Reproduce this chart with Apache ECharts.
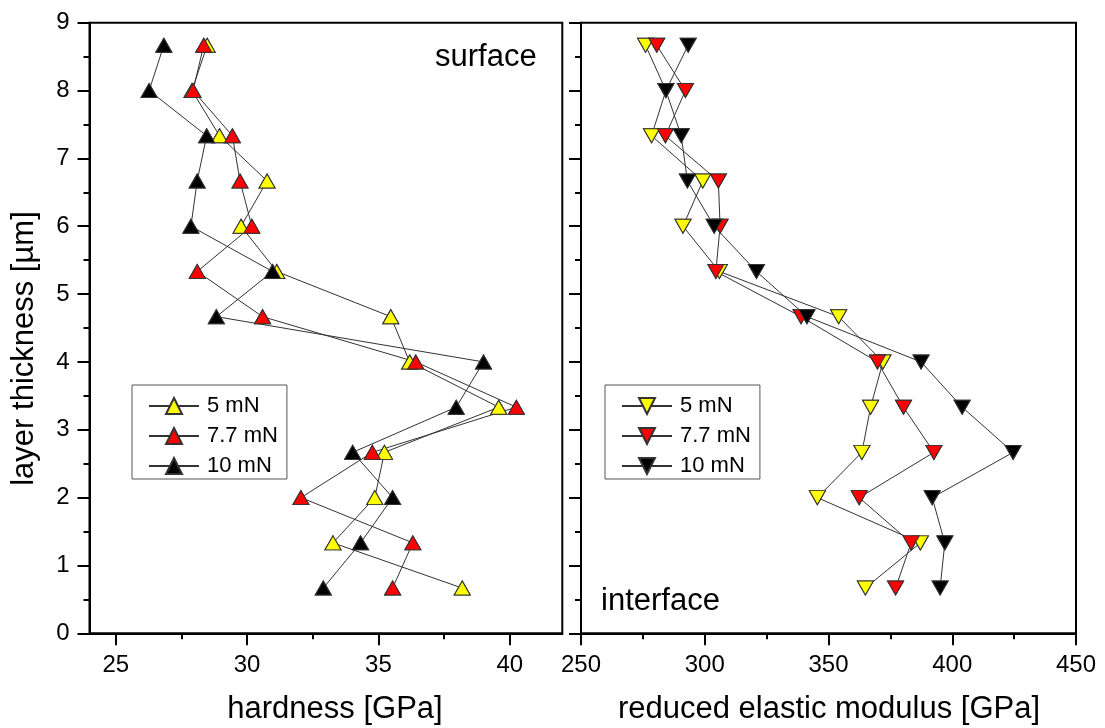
<!DOCTYPE html>
<html>
<head>
<meta charset="utf-8">
<script src="https://cdn.jsdelivr.net/npm/echarts@6/dist/echarts.min.js"></script>
<style>html,body{margin:0;padding:0;background:#fff}#c{width:1105px;height:728px}</style>
</head>
<body>
<div id="c"></div>
<script>
// ---- data ----
const depth = [8.667, 8.0, 7.333, 6.667, 6.0, 5.333, 4.667, 4.0, 3.333, 2.667, 2.0, 1.333, 0.667];
const hard5  = [28.48, 27.90, 28.95, 30.76, 29.77, 31.13, 35.47, 36.19, 39.58, 35.23, 34.86, 33.27, 38.19];
const hard77 = [28.35, 27.94, 29.44, 29.73, 30.18, 28.10, 30.59, 36.42, 40.25, 34.77, 32.05, 36.31, 35.54];
const hard10 = [26.83, 26.27, 28.46, 28.10, 27.86, 30.97, 28.83, 39.00, 37.96, 34.02, 35.54, 34.32, 32.90];
const mod5  = [276.1, 284.3, 278.5, 299.2, 291.2, 305.9, 354.1, 372.0, 367.0, 363.5, 345.5, 387.1, 364.9];
const mod77 = [280.6, 292.2, 284.1, 305.5, 306.2, 304.5, 338.9, 369.8, 380.3, 392.6, 362.4, 383.4, 377.1];
const mod10 = [293.3, 284.3, 290.5, 293.0, 303.8, 320.9, 341.3, 387.4, 404.0, 424.6, 391.9, 397.0, 395.1];
const loadNames = ['5 mN', '7.7 mN', '10 mN'];
const hardTicks = [25, 30, 35, 40];
const hardMinorTicks = [27.5, 32.5, 37.5];
const fills = ['#ffff00', '#ff0000', '#000000'];

const FONT = "'Liberation Sans', Arial, sans-serif";
const UP = 'triangle';
const DOWN = 'path://M0,0L10,0L5,10Z';

function pairs(xs) { return xs.map((v, i) => [v, depth[i]]); }

const series = [];
function addPanel(sets, gridIdx, xIdx, symbol, prefix) {
  sets.forEach((vals, k) => {
    const item = { color: fills[k], borderColor: '#333', borderWidth: 1 };
    series.push({
      name: prefix + loadNames[k], type: 'line', xAxisIndex: xIdx, yAxisIndex: gridIdx,
      data: pairs(vals), symbol: symbol, symbolSize: [16, 14], showSymbol: true,
      itemStyle: item, lineStyle: { color: '#333', width: 1 }, z: 2, animation: false, silent: true
    });
  });
  sets.forEach((vals, k) => {
    series.push({
      name: prefix + loadNames[k] + ' pts', type: 'scatter', xAxisIndex: xIdx, yAxisIndex: gridIdx,
      data: pairs(vals), symbol: symbol, symbolSize: [16, 14],
      itemStyle: { color: fills[k], borderColor: '#333', borderWidth: 1, opacity: 1 },
      z: 3, animation: false, silent: true
    });
  });
}
addPanel([hard5, hard77, hard10], 0, 0, UP, '');
addPanel([mod5, mod77, mod10], 1, 2, DOWN, 'E ');

const axisLine = { show: true, onZero: false, lineStyle: { color: '#000', width: 2 } };
const tickStyle = { color: '#000', width: 2 };
const labelStyle = { color: '#000', fontSize: 24, fontFamily: FONT };

const legendBase = {
  orient: 'vertical', top: 385, itemWidth: 50, itemHeight: 20, itemGap: 8,
  padding: [10, 9, 2, 16], borderColor: '#555', borderWidth: 1, backgroundColor: '#fff',
  selectedMode: false,
  textStyle: { fontSize: 22, fontFamily: FONT, color: '#000', lineHeight: 20, padding: [0, 0, 0, 3] }
};

const option = {
  animation: false,
  backgroundColor: '#fff',
  grid: [
    { left: 89.5, top: 22.7, width: 472.8, height: 610.6, show: true, borderColor: '#000', borderWidth: 2, backgroundColor: 'transparent' },
    { left: 581, top: 22.7, width: 495, height: 610.6, show: true, borderColor: '#000', borderWidth: 2, backgroundColor: 'transparent' }
  ],
  xAxis: [
    { gridIndex: 0, type: 'value', position: 'bottom', min: 24, max: 42,
      axisLine: axisLine,
      axisTick: { show: true, inside: false, length: 12, customValues: hardTicks, lineStyle: tickStyle },
      axisLabel: Object.assign({ margin: 20, customValues: hardTicks }, labelStyle),
      splitLine: { show: false } },
    { gridIndex: 0, type: 'value', position: 'bottom', min: 24, max: 42,
      axisLine: { show: false, onZero: false },
      axisTick: { show: true, inside: false, length: 6, customValues: hardMinorTicks, lineStyle: tickStyle },
      axisLabel: { show: false },
      splitLine: { show: false } },
    { gridIndex: 1, type: 'value', position: 'bottom', min: 250, max: 450, interval: 50,
      axisLine: axisLine,
      axisTick: { show: true, inside: false, length: 12, lineStyle: tickStyle },
      minorTick: { show: true, splitNumber: 2, length: 6, lineStyle: tickStyle },
      axisLabel: Object.assign({ margin: 20 }, labelStyle),
      splitLine: { show: false }, minorSplitLine: { show: false } }
  ],
  yAxis: [
    { gridIndex: 0, type: 'value', position: 'left', min: 0, max: 9, interval: 1,
      axisLine: axisLine,
      axisTick: { show: true, inside: false, length: 12, lineStyle: tickStyle },
      minorTick: { show: true, splitNumber: 2, length: 6, lineStyle: tickStyle },
      axisLabel: Object.assign({ margin: 20 }, labelStyle),
      splitLine: { show: false }, minorSplitLine: { show: false } },
    { gridIndex: 1, type: 'value', position: 'left', min: 0, max: 9, interval: 1,
      axisLine: axisLine,
      axisTick: { show: true, inside: false, length: 12, lineStyle: tickStyle },
      minorTick: { show: true, splitNumber: 2, length: 6, lineStyle: tickStyle },
      axisLabel: { show: false },
      splitLine: { show: false }, minorSplitLine: { show: false } }
  ],
  legend: [
    Object.assign({ left: 132, data: loadNames }, legendBase),
    Object.assign({ left: 605, data: loadNames.map(n => 'E ' + n),
      formatter: function (n) { return n.replace(/^E /, ''); } }, legendBase)
  ],
  graphic: [
    { type: 'text', x: 435, y: 57.5, style: { text: 'surface', fontSize: 31, fontFamily: FONT, fill: '#000', align: 'left', verticalAlign: 'middle' } },
    { type: 'text', x: 601, y: 601, style: { text: 'interface', fontSize: 31, fontFamily: FONT, fill: '#000', align: 'left', verticalAlign: 'middle' } },
    { type: 'text', x: 24, y: 348.5, rotation: Math.PI / 2, style: { text: 'layer thickness [µm]', fontSize: 31, fontFamily: FONT, fill: '#000', align: 'center', verticalAlign: 'middle' } },
    { type: 'text', x: 335, y: 709.5, style: { text: 'hardness [GPa]', fontSize: 31, fontFamily: FONT, fill: '#000', align: 'center', verticalAlign: 'middle' } },
    { type: 'text', x: 829, y: 709.5, style: { text: 'reduced elastic modulus [GPa]', fontSize: 31, fontFamily: FONT, fill: '#000', align: 'center', verticalAlign: 'middle' } }
  ],
  series: series
};

const chart = echarts.init(document.getElementById('c'), null, { renderer: 'canvas' });
chart.setOption(option);
</script>
</body>
</html>
